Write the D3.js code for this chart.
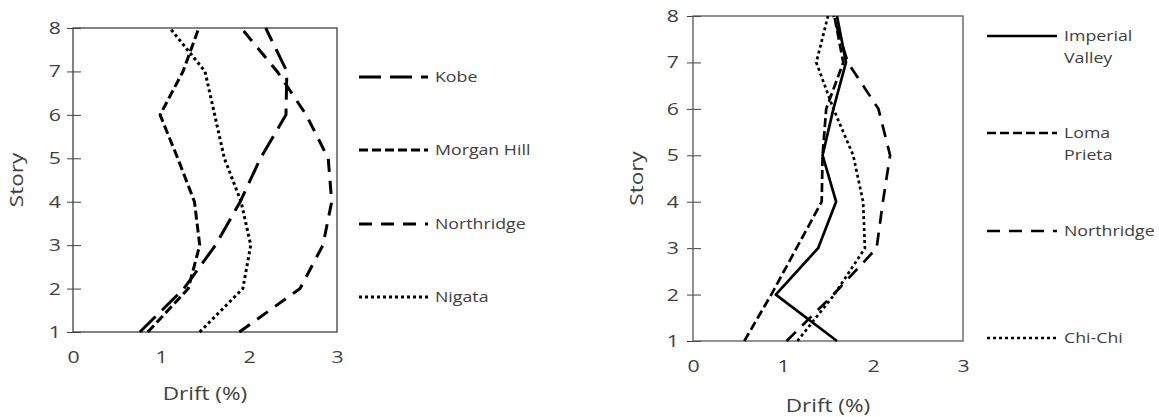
<!DOCTYPE html>
<html>
<head>
<meta charset="utf-8">
<script src="https://cdn.jsdelivr.net/npm/d3@7"></script>
<style>
  html, body { margin: 0; padding: 0; background: #fff; }
  svg { display: block; }
  text { font-family: "Open Sans", "Noto Sans", sans-serif; fill: #404040; }
</style>
</head>
<body>
<svg id="chart" width="1159" height="417"></svg>
<script>
// ---------- Data ----------
const stories = [1, 2, 3, 4, 5, 6, 7, 8];
const xTicks = [0, 1, 2, 3];
const yTicks = [1, 2, 3, 4, 5, 6, 7, 8];

// Left panel
const leftNames = ["Kobe", "Morgan Hill", "Northridge", "Nigata"];
const kobe       = [0.76, 1.26, 1.62, 1.90, 2.13, 2.42, 2.43, 2.19];
const morganHill = [0.85, 1.31, 1.44, 1.38, 1.19, 0.99, 1.25, 1.43];
const northridgeL= [1.89, 2.58, 2.84, 2.94, 2.90, 2.65, 2.32, 1.91];
const nigata     = [1.44, 1.93, 2.02, 1.91, 1.72, 1.61, 1.50, 1.10];

// Right panel
const rightNames = [["Imperial", "Valley"], ["Loma", "Prieta"], ["Northridge"], ["Chi-Chi"]];
const imperialValley = [1.60, 0.92, 1.39, 1.59, 1.44, 1.56, 1.70, 1.60];
const lomaPrieta     = [0.57, 0.87, 1.15, 1.43, 1.44, 1.48, 1.67, 1.57];
const northridgeR    = [1.04, 1.56, 2.04, 2.11, 2.19, 2.06, 1.72, 1.56];
const chiChi         = [1.16, 1.57, 1.91, 1.89, 1.78, 1.56, 1.37, 1.50];

// ---------- Styles ----------
const dashStyles = {
  longDash: "22,9",
  shortDash: "9,4",
  dash: "13,9",
  dot: "3,3",
  solid: null
};
const STRETCH = 1.25;
const LEG_STRETCH = 1.2;
const TICK_FS = 17;
const TITLE_FS = 18;
const LEG_FS = 14.8;

const svg = d3.select("#chart");

function drawPanel(cfg) {
  const x = d3.scaleLinear().domain([0, 3]).range([cfg.left, cfg.right]);
  const y = d3.scaleLinear().domain([1, 8]).range([cfg.bottom, cfg.top]);
  const g = svg.append("g");

  // y axis (labels + crossing ticks)
  const ya = g.append("g").attr("transform", `translate(${cfg.left},0)`)
    .call(d3.axisLeft(y).tickValues(yTicks).tickFormat(d3.format("d")).tickSize(7).tickPadding(cfg.yPad));
  ya.select(".domain").remove();
  ya.selectAll(".tick line").attr("x1", 8).attr("x2", -6).attr("stroke", "#404040");
  ya.selectAll(".tick text")
    .attr("font-size", TICK_FS).attr("fill", "#404040")
    .style("font-family", '"Open Sans", sans-serif')
    .attr("x", -cfg.yPad / STRETCH)
    .attr("transform", `scale(${STRETCH},1)`);

  // x axis labels only
  const xa = g.append("g").attr("transform", `translate(0,${cfg.bottom})`)
    .call(d3.axisBottom(x).tickValues(xTicks).tickFormat(d3.format("d")).tickSize(0).tickPadding(cfg.xPad));
  xa.select(".domain").remove();
  xa.selectAll(".tick text")
    .attr("font-size", TICK_FS).attr("fill", "#404040")
    .style("font-family", '"Open Sans", sans-serif')
    .attr("transform", `scale(${STRETCH},1)`);

  // frame
  g.append("rect")
    .attr("x", cfg.left).attr("y", cfg.top)
    .attr("width", cfg.right - cfg.left).attr("height", cfg.bottom - cfg.top)
    .attr("fill", "none").attr("stroke", cfg.frame).attr("stroke-width", 1.3);

  // lines
  const line = d3.line().x(d => x(d[0])).y(d => y(d[1]));
  const clipId = "clip" + cfg.left;
  svg.append("clipPath").attr("id", clipId).append("rect")
    .attr("x", cfg.left - 2).attr("y", cfg.top - 2)
    .attr("width", cfg.right - cfg.left + 4).attr("height", cfg.bottom - cfg.top + 4);
  cfg.series.forEach(s => {
    const pts = s.values.map((v, i) => [v, stories[i]]);
    g.append("path").datum(pts)
      .attr("clip-path", `url(#${clipId})`)
      .attr("d", line)
      .attr("fill", "none")
      .attr("stroke", "#000")
      .attr("stroke-width", cfg.lw)
      .attr("stroke-linejoin", "round")
      .attr("stroke-dasharray", dashStyles[s.style]);
  });

  // axis titles
  g.append("text")
    .attr("transform", `translate(${(cfg.left + cfg.right) / 2},${cfg.xTitleY}) scale(${STRETCH},1)`)
    .attr("text-anchor", "middle").attr("font-size", TITLE_FS)
    .text("Drift (%)");
  g.append("text")
    .attr("transform", `translate(${cfg.yTitleX},${(cfg.top + cfg.bottom) / 2}) rotate(-90) scale(${STRETCH},1)`)
    .attr("text-anchor", "middle").attr("font-size", TITLE_FS)
    .text("Story");

  // legend
  cfg.series.forEach((s, i) => {
    const ly = cfg.legendY[i];
    g.append("line")
      .attr("x1", cfg.legX1).attr("x2", cfg.legX2)
      .attr("y1", ly).attr("y2", ly)
      .attr("stroke", "#000").attr("stroke-width", cfg.lw)
      .attr("stroke-dasharray", dashStyles[s.style]);
    const t = g.append("text")
      .attr("transform", `translate(${cfg.legX2 + 7},${ly}) scale(${LEG_STRETCH},1)`)
      .attr("font-size", LEG_FS);
    s.label.forEach((ln, j) => {
      t.append("tspan").attr("x", 0).attr("dy", j === 0 ? "0.35em" : "1.5em").text(ln);
    });
  });
}

drawPanel({
  left: 73, right: 337, top: 28, bottom: 332,
  yPad: 12, xPad: 19, frame: "#404040", lw: 3,
  xTitleY: 400, yTitleX: 23,
  legX1: 359, legX2: 428,
  legendY: [77, 150, 224, 297],
  series: [
    { label: [leftNames[0]], values: kobe, style: "longDash" },
    { label: [leftNames[1]], values: morganHill, style: "shortDash" },
    { label: [leftNames[2]], values: northridgeL, style: "dash" },
    { label: [leftNames[3]], values: nigata, style: "dot" }
  ]
});

drawPanel({
  left: 693, right: 963, top: 16, bottom: 341,
  yPad: 14, xPad: 19, frame: "#595959", lw: 2.7,
  xTitleY: 412, yTitleX: 643,
  legX1: 987, legX2: 1057,
  legendY: [36, 133, 231, 338],
  series: [
    { label: rightNames[0], values: imperialValley, style: "solid" },
    { label: rightNames[1], values: lomaPrieta, style: "shortDash" },
    { label: rightNames[2], values: northridgeR, style: "dash" },
    { label: rightNames[3], values: chiChi, style: "dot" }
  ]
});
</script>
</body>
</html>
